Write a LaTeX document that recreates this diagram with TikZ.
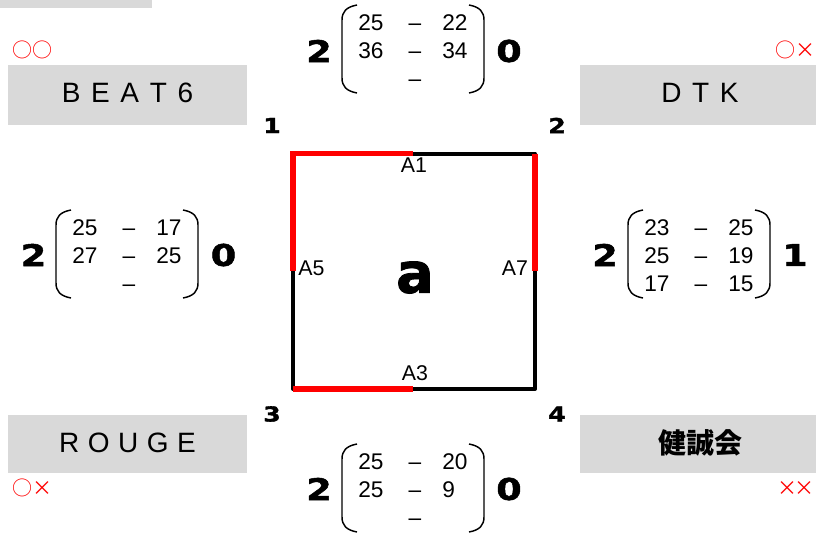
\documentclass[tikz,border=0pt]{standalone}
\usepackage{fontspec}
\setmainfont{Liberation Sans}
\newfontfamily\heavy{DejaVu Sans}[FakeStretch=1.22, BoldFeatures={FakeBold=1.6}]
\newfontfamily\heavya{DejaVu Sans}[BoldFeatures={FakeBold=1.5}]
\newfontfamily\cjk{Noto Sans CJK JP}
\definecolor{boxgray}{HTML}{D9D9D9}
\definecolor{mred}{HTML}{FF0000}
\newcommand\lsp{\hspace{8pt}}
\newcommand\lspr{\hspace{6.4pt}}
\tikzset{
  paren/.style={line width=1.1pt},
  cell/.style={font=\fontsize{17}{20}\selectfont, inner sep=0pt, anchor=west},
  dashcell/.style={font=\fontsize{17}{20}\selectfont, inner sep=0pt, anchor=center},
  score/.style={font=\heavy\bfseries\fontsize{22.5}{26}\selectfont, inner sep=0pt},
  corner/.style={font=\heavy\bfseries\fontsize{15.5}{18}\selectfont, inner sep=0pt},
  alabel/.style={font=\fontsize{16}{18}\selectfont, inner sep=0pt},
  boxtext/.style={font=\fontsize{21}{24}\selectfont, inner sep=0pt},
  marks/.style={font=\cjk\fontsize{15}{18}\selectfont, text=mred, inner sep=0pt},
  sqline/.style={line width=3pt, line join=round, line cap=round},
  redline/.style={line width=4pt, draw=mred},
}
\newcommand\scoremat[9]{%
\begin{scope}[shift={(#2,#3)}]
\draw[paren] (15,-44) .. controls (4,-42) and (0,-37) .. (0,-29) -- (0,29) .. controls (0,37) and (4,42) .. (15,44);
\draw[paren] (127,-44) .. controls (138,-42) and (142,-37) .. (142,-29) -- (142,29) .. controls (142,37) and (138,42) .. (127,44);
\node[cell] (#1-1a) at (16,-26.5) {#4};
\node[dashcell] (#1-1d) at (73,-26.5) {\vphantom{0}–};
\node[cell] (#1-1b) at (100,-26.5) {#5};
\node[cell] (#1-2a) at (16,2) {#6};
\node[dashcell] (#1-2d) at (73,2) {\vphantom{0}–};
\node[cell] (#1-2b) at (100,2) {#7};
\node[cell] (#1-3a) at (16,30) {#8};
\node[dashcell] (#1-3d) at (73,30) {\vphantom{0}–};
\node[cell] (#1-3b) at (100,30) {#9};
\end{scope}}
\begin{document}
\begin{tikzpicture}[x=0.75pt,y=-0.75pt]
\useasboundingbox (0,0) rectangle (816,533);
% top-left strip
\fill[boxgray] (0,0) rectangle (152,8);
% team boxes
\fill[boxgray] (8,65) rectangle (247,125);
\fill[boxgray] (580,65) rectangle (819,125);
\fill[boxgray] (8,415) rectangle (247,473);
\fill[boxgray] (580,415) rectangle (819,473);
\node[boxtext] (beat) at (127.5,93) {B\lsp E\lsp A\lsp T\lsp 6};
\node[boxtext] (dtk) at (700,93) {D\lsp T\lsp K};
\node[boxtext] (rouge) at (127.5,442.5) {R\lspr O\lspr U\lspr G\lspr E};
\node[boxtext, font=\cjk\bfseries\fontsize{21}{24}\selectfont] (kenseikai) at (700,443) {健誠会};
% result marks
\node[marks, anchor=west] (m-beat) at (12,49.5) {○○};
\node[marks, anchor=east] (m-dtk) at (816,50) {○×};
\node[marks, anchor=west] (m-rouge) at (12,487.5) {○×};
\node[marks, anchor=east] (m-ken) at (815,489) {×\kern-2pt×};
% square
\coordinate (c1) at (293,153.5);
\coordinate (c2) at (535,153.5);
\coordinate (c3) at (293,389);
\coordinate (c4) at (535,389);
\coordinate (m1) at (413,153.5);
\coordinate (m3) at (413,389);
\coordinate (m5) at (293,271);
\coordinate (m7) at (535,271);
\draw[sqline] (c1) -- (c2) -- (c4) -- (c3) -- cycle;
\draw[redline] (m5) -- (c1) -- (m1);
\draw[redline] (c2) -- (m7);
\draw[redline] (c3) -- (m3);
\node[alabel] (a1) at (414,165.5) {A1};
\node[alabel] (a5) at (311.5,268) {A5};
\node[alabel] (a7) at (515,268) {A7};
\node[alabel] (a3) at (415,373) {A3};
\node[font=\heavya\bfseries\fontsize{42}{48}\selectfont, inner sep=0pt] (center) at (415,277.5) {a};
% corner numbers
\node[corner] (n1) at (272,125.5) {1};
\node[corner] (n2) at (557,125.5) {2};
\node[corner] (n3) at (272,414) {3};
\node[corner] (n4) at (557,414) {4};
% score matrices
\scoremat{top}{342}{49}{25}{22}{36}{34}{}{}
\node[score] (top-l) at (319,51) {2};
\node[score] (top-r) at (509,51) {0};
\scoremat{left}{56}{254}{25}{17}{27}{25}{}{}
\node[score] (left-l) at (33.5,255) {2};
\node[score] (left-r) at (223.5,255) {0};
\scoremat{right}{628}{254}{23}{25}{25}{19}{17}{15}
\node[score] (right-l) at (605,255) {2};
\node[score] (right-r) at (795,255) {1};
\scoremat{bot}{342}{488}{25}{20}{25}{9}{}{}
\node[score] (bot-l) at (319,489) {2};
\node[score] (bot-r) at (509,489) {0};
\end{tikzpicture}
\end{document}
